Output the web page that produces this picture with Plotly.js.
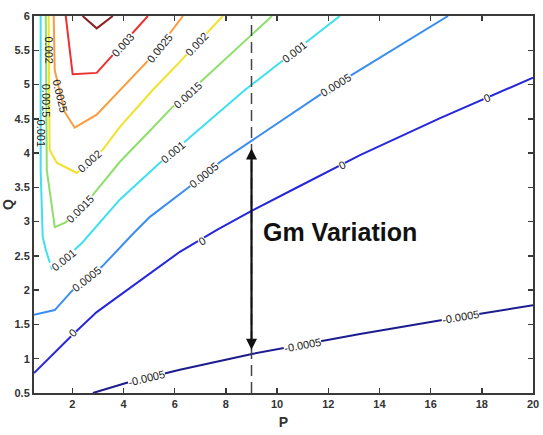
<!DOCTYPE html>
<html>
<head>
<meta charset="utf-8">
<script src="https://cdn.plot.ly/plotly-3.0.1.min.js"></script>
<style>html,body{margin:0;padding:0;background:#fff}#chart{width:543px;height:435px}</style>
</head>
<body>
<div id="chart"></div>
<script>
// ---------- data ----------
const xTicks = [2, 4, 6, 8, 10, 12, 14, 16, 18, 20];
const yTicks = [0.5, 1, 1.5, 2, 2.5, 3, 3.5, 4, 4.5, 5, 5.5, 6];
const yTickText = ['0.5', '1', '1.5', '2', '2.5', '3', '3.5', '4', '4.5', '5', '5.5', '6'];

const levels = ['-0.0005', '0', '0.0005', '0.001', '0.0015', '0.002', '0.0025', '0.003', '0.0035'];

// contour level -0.0005
const P_m0005 = [2.80, 4.13, 6.20, 9.02, 13.24, 17.15, 20.0];
const Q_m0005 = [0.50, 0.65, 0.84, 1.07, 1.36, 1.61, 1.78];
const labP_m0005 = [4.91, 11.0, 17.15];
const labQ_m0005 = [0.72, 1.20, 1.61];
// contour level 0
const P_0 = [0.5, 2.01, 2.95, 5.03, 6.20, 7.65, 9.02, 10.89, 13.24, 16.37, 20.0];
const Q_0 = [0.79, 1.35, 1.68, 2.25, 2.56, 2.88, 3.16, 3.52, 3.97, 4.51, 5.10];
const labP_0 = [2.01, 7.07, 12.54, 18.2];
const labQ_0 = [1.37, 2.72, 3.83, 4.80];
// contour level 0.0005
const P_0005 = [0.5, 1.31, 2.01, 3.15, 4.36, 5.03, 6.51, 7.77, 9.04, 11.67, 12.92, 16.68];
const Q_0005 = [1.64, 1.71, 2.00, 2.34, 2.82, 3.07, 3.49, 3.87, 4.19, 4.85, 5.14, 6.0];
const labP_0005 = [2.56, 7.14, 12.29];
const labQ_0005 = [2.16, 3.68, 4.99];
// contour level 0.001
const P_001 = [0.76, 0.76, 0.84, 0.96, 1.19, 2.09, 2.40, 3.85, 5.42, 6.47, 8.74, 12.45];
const Q_001 = [6.0, 3.75, 2.78, 2.59, 2.32, 2.59, 2.70, 3.32, 3.86, 4.19, 4.92, 6.0];
const labP_001 = [0.76, 1.66, 5.93, 10.68];
const labQ_001 = [4.29, 2.44, 4.02, 5.47];
// contour level 0.0015
const P_0015 = [0.96, 1.0, 1.31, 1.74, 2.80, 3.85, 5.14, 5.88, 7.10, 9.80];
const Q_0015 = [6.0, 3.75, 2.92, 2.99, 3.39, 3.87, 4.37, 4.66, 5.07, 6.0];
const labP_0015 = [0.98, 2.29, 6.51];
const labQ_0015 = [4.76, 3.19, 4.85];
// contour level 0.002
const P_002 = [1.07, 1.11, 1.39, 2.17, 3.19, 3.85, 5.14, 6.20, 7.88];
const Q_002 = [6.0, 4.05, 3.86, 3.71, 4.05, 4.38, 4.92, 5.33, 6.0];
const labP_002 = [1.08, 2.68, 6.87];
const labQ_002 = [5.50, 3.88, 5.59];
// contour level 0.0025
const P_0025 = [1.27, 1.31, 1.70, 2.09, 2.95, 3.93, 4.91, 5.61, 6.32];
const Q_0025 = [6.0, 5.21, 4.60, 4.37, 4.56, 4.94, 5.33, 5.65, 6.0];
const labP_0025 = [1.52, 5.42];
const labQ_0025 = [4.83, 5.53];
// contour level 0.003
const P_003 = [1.74, 2.01, 2.95, 4.95];
const Q_003 = [6.0, 5.15, 5.17, 6.0];
const labP_003 = [3.97];
const labQ_003 = [5.58];
// contour level 0.0035
const P_0035 = [2.40, 2.95, 3.58];
const Q_0035 = [6.0, 5.82, 6.0];

// vertical marker and Gm variation arrow
const markerP = [9];
const arrowTopQ = [4.09];
const arrowBottomQ = [1.13];
const noteText = 'Gm Variation';
const noteP = [9.37];
const noteQ = [2.85];

// ---------- styles ----------
const levelColors = ['#1c1c8e', '#2626dc', '#3a8ef0', '#3ee0f0', '#8edf6a', '#f2e22a', '#fb9c3c', '#ec3030', '#8c2020'];
const FONT = 'Liberation Sans, Arial, sans-serif';

const contours = [
  {P: P_m0005, Q: Q_m0005, lp: labP_m0005, lq: labQ_m0005},
  {P: P_0, Q: Q_0, lp: labP_0, lq: labQ_0},
  {P: P_0005, Q: Q_0005, lp: labP_0005, lq: labQ_0005},
  {P: P_001, Q: Q_001, lp: labP_001, lq: labQ_001},
  {P: P_0015, Q: Q_0015, lp: labP_0015, lq: labQ_0015},
  {P: P_002, Q: Q_002, lp: labP_002, lq: labQ_002},
  {P: P_0025, Q: Q_0025, lp: labP_0025, lq: labQ_0025},
  {P: P_003, Q: Q_003, lp: labP_003, lq: labQ_003},
  {P: P_0035, Q: Q_0035, lp: [], lq: []}
];

const W = 543, H = 435;
const margin = {l: 34, r: 10, t: 16, b: 42};
const xRange = [0.5, 20], yRange = [0.5, 6];
const kx = (W - margin.l - margin.r) / (xRange[1] - xRange[0]);
const ky = (H - margin.t - margin.b) / (yRange[1] - yRange[0]);

function labelAngle(P, Q, lp, lq) {
  let best = null, bestD = Infinity;
  for (let i = 0; i < P.length - 1; i++) {
    const ax = P[i] * kx, ay = Q[i] * ky, bx = P[i + 1] * kx, by = Q[i + 1] * ky;
    const px = lp * kx, py = lq * ky;
    const dx = bx - ax, dy = by - ay;
    const len2 = dx * dx + dy * dy || 1;
    let t = ((px - ax) * dx + (py - ay) * dy) / len2;
    t = Math.max(0, Math.min(1, t));
    const cx = ax + t * dx, cy = ay + t * dy;
    const d = Math.hypot(px - cx, py - cy);
    if (d < bestD) { bestD = d; best = [dx, dy]; }
  }
  let a = -Math.atan2(best[1], best[0]) * 180 / Math.PI;
  if (a > 90) a -= 180;
  if (a <= -90) a += 180;
  return a;
}

const traces = [];
const annotations = [];

contours.forEach((c, i) => {
  traces.push({
    type: 'scatter', mode: 'lines', x: c.P, y: c.Q,
    line: {color: levelColors[i], width: 2},
    hoverinfo: 'skip', showlegend: false
  });
  c.lp.forEach((lp, j) => {
    const ang = labelAngle(c.P, c.Q, lp, c.lq[j]);
    annotations.push({
      x: lp, y: c.lq[j], xref: 'x', yref: 'y', text: levels[i], showarrow: false,
      textangle: ang, xanchor: 'center', yanchor: 'middle',
      font: {family: FONT, size: 11, color: '#222'},
      bgcolor: Math.abs(ang) > 70 ? 'rgba(0,0,0,0)' : '#ffffff', borderpad: 0
    });
  });
});

// dashed vertical marker
traces.push({
  type: 'scatter', mode: 'lines', x: [markerP[0], markerP[0]], y: yRange,
  line: {color: '#444', width: 1.5, dash: '11px,6px'},
  hoverinfo: 'skip', showlegend: false
});

// double-headed arrow
annotations.push({
  x: markerP[0], y: arrowBottomQ[0], ax: markerP[0], ay: arrowTopQ[0],
  xref: 'x', yref: 'y', axref: 'x', ayref: 'y', text: '',
  showarrow: true, arrowhead: 2, startarrowhead: 2, arrowside: 'end+start',
  arrowsize: 1, startarrowsize: 1, arrowwidth: 2.2, arrowcolor: '#111',
  standoff: 0, startstandoff: 0
});

annotations.push({
  x: noteP[0], y: noteQ[0], xref: 'x', yref: 'y', text: '<b>' + noteText + '</b>',
  showarrow: false, xanchor: 'left', yanchor: 'middle',
  font: {family: FONT, size: 25, color: '#111'}
});

const axisCommon = {
  showline: true, linecolor: '#3a3a3a', linewidth: 2, mirror: 'ticks',
  ticks: 'inside', ticklen: 5, tickwidth: 1.5, tickcolor: '#3a3a3a',
  showgrid: false, zeroline: false,
  tickfont: {family: FONT, size: 11, color: '#333', weight: 'bold'}
};

const layout = {
  width: W, height: H, margin: margin,
  paper_bgcolor: '#fff', plot_bgcolor: '#fff', showlegend: false,
  xaxis: Object.assign({}, axisCommon, {
    range: xRange, tickvals: xTicks,
    title: {text: 'P', font: {family: FONT, size: 14, color: '#333', weight: 'bold'}, standoff: 8}
  }),
  yaxis: Object.assign({}, axisCommon, {
    range: yRange, tickvals: yTicks, ticktext: yTickText,
    title: {text: 'Q', font: {family: FONT, size: 14, color: '#333', weight: 'bold'}, standoff: 2}
  }),
  annotations: annotations
};

Plotly.newPlot('chart', traces, layout, {staticPlot: true, displayModeBar: false});
</script>
</body>
</html>
